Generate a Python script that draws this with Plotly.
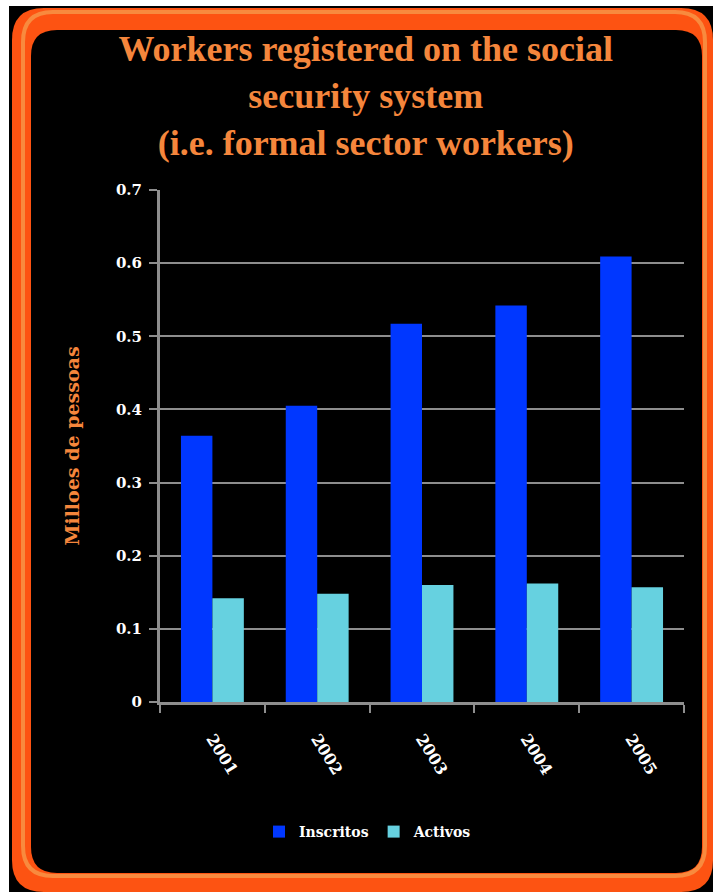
import plotly.graph_objects as go

# Data (millions of people)
years = ["2001", "2002", "2003", "2004", "2005"]
inscritos = [0.364, 0.405, 0.517, 0.542, 0.609]
activos = [0.142, 0.148, 0.160, 0.162, 0.157]
y_ticks = [0, 0.1, 0.2, 0.3, 0.4, 0.5, 0.6, 0.7]
y_tick_labels = ["0", "0.1", "0.2", "0.3", "0.4", "0.5", "0.6", "0.7"]

W, H = 713, 892
L, R, T, B = 160, 29, 190, 190
PW, PH = W - L - R, H - T - B


def px(x):
    return (x - L) / PW


def py(y):
    return (H - B - y) / PH


def rounded_rect(x0, y0, x1, y1, r):
    a0, a1 = px(x0), px(x1)
    b0, b1 = py(y0), py(y1)
    rx, ry = r / PW, r / PH
    return (
        f"M{a0 + rx},{b0} L{a1 - rx},{b0} Q{a1},{b0} {a1},{b0 - ry} "
        f"L{a1},{b1 + ry} Q{a1},{b1} {a1 - rx},{b1} "
        f"L{a0 + rx},{b1} Q{a0},{b1} {a0},{b1 + ry} "
        f"L{a0},{b0 - ry} Q{a0},{b0} {a0 + rx},{b0} Z"
    )


DARK_OR = "#FD5312"
LIGHT_OR = "#F88A3E"
TITLE_OR = "#F5863C"
GRID = "#8E8E8E"
SERIF = "DejaVu Serif"

fig = go.Figure()
fig.add_trace(go.Bar(name="Inscritos", x=years, y=inscritos, marker_color="#0037FF",
                     marker_line_width=0))
fig.add_trace(go.Bar(name="Activos", x=years, y=activos, marker_color="#66D1E0",
                     marker_line_width=0))

shapes = [
    dict(type="rect", xref="paper", yref="paper", x0=px(9), x1=px(713), y0=py(6), y1=py(892),
         fillcolor="black", line_width=0, layer="below"),
    dict(type="path", xref="paper", yref="paper", path=rounded_rect(12, 8, 713, 892, 32),
         fillcolor=DARK_OR, line_width=0, layer="below"),
    dict(type="path", xref="paper", yref="paper", path=rounded_rect(23, 12, 705, 876, 30),
         fillcolor="rgba(0,0,0,0)", line=dict(color=LIGHT_OR, width=4), layer="below"),
    dict(type="path", xref="paper", yref="paper", path=rounded_rect(31, 30, 702, 873, 26),
         fillcolor="black", line_width=0, layer="below"),
]

fig.update_layout(
    width=W, height=H,
    margin=dict(l=L, r=R, t=T, b=B, pad=0),
    paper_bgcolor="white",
    plot_bgcolor="rgba(0,0,0,0)",
    barmode="group",
    bargap=0.4,
    bargroupgap=0,
    shapes=shapes,
    title=dict(
        text="Workers registered on the social<br>security system<br>(i.e. formal sector workers)",
        font=dict(family="Liberation Serif", size=36, color=TITLE_OR, weight="bold"),
        x=0.513, xref="container", xanchor="center",
        y=1 - 61 / H, yref="container", yanchor="middle",
    ),
    legend=dict(
        orientation="h",
        x=px(368), xanchor="center",
        y=py(832), yanchor="middle",
        font=dict(family=SERIF, size=14, color="white", weight="bold"),
        bgcolor="rgba(0,0,0,0)",
        itemwidth=30,
    ),
    xaxis=dict(
        type="category",
        showgrid=False,
        showline=True, linecolor=GRID, linewidth=3,
        ticks="outside", tickson="boundaries", ticklen=8, tickcolor=GRID, tickwidth=2,
        tickangle=58,
        tickfont=dict(family=SERIF, size=16, color="white", weight="bold"),
        ticklabelstandoff=18,
    ),
    yaxis=dict(
        range=[0, 0.7],
        tickvals=y_ticks, ticktext=y_tick_labels,
        showgrid=True, gridcolor=GRID, gridwidth=2,
        showline=True, linecolor=GRID, linewidth=3,
        ticks="outside", ticklen=8, tickcolor=GRID, tickwidth=2,
        tickfont=dict(family=SERIF, size=15, color="white", weight="bold"),
        ticklabelstandoff=4,
        zeroline=False,
        title=dict(text="Milloes de pessoas",
                   font=dict(family=SERIF, size=19, color=TITLE_OR, weight="bold"),
                   standoff=32),
    ),
)

fig.write_html("out.html")
